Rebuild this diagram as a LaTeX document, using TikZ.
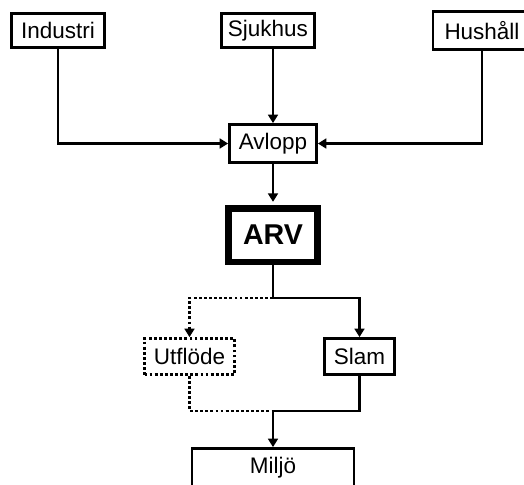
\documentclass[tikz,border=0pt]{standalone}
\usepackage{fontspec}
\setmainfont{Liberation Sans}
\usetikzlibrary{arrows.meta}
\tikzset{
  bx/.style={draw, line width=1.6pt, inner sep=0pt, align=center, font=\fontsize{12.8}{15}\selectfont},
  srcbox/.style={bx, minimum width=1.86cm, minimum height=0.68cm},
  plantbox/.style={draw, line width=3.7pt, inner sep=0pt, minimum width=1.79cm, minimum height=1.07cm, font=\fontsize{16.3}{19}\selectfont\bfseries},
  outbox/.style={bx, dash pattern=on 1.6pt off 1.3pt},
  arr/.style={-{Triangle[length=4.8pt,width=5.6pt]}, line width=1.6pt},
  flow/.style={line width=1.6pt},
  dotflow/.style={line width=1.6pt, dash pattern=on 1.6pt off 1.3pt},
}
\begin{document}
\begin{tikzpicture}[x=0.02cm, y=-0.02cm]
  \fill[white] (0,0) rectangle (524,484);
  \useasboundingbox (0,0) rectangle (524,484);
  % sources
  \node[srcbox] (ind) at (58,30.5) {Industri};
  \node[srcbox] (sjuk) at (268,30.5) {Sjukhus};
  \node[srcbox, minimum width=1.96cm, minimum height=0.76cm] (hus) at (482,30.5) {Hushåll};
  \node[bx, minimum width=1.74cm, minimum height=0.76cm] (avl) at (273,143.5) {Avlopp};
  % plant and outputs
  \node[plantbox] (arv) at (273,235) {ARV};
  \node[outbox, minimum width=1.80cm, minimum height=0.72cm] (utf) at (189.5,356.5) {Utflöde};
  \node[bx, minimum width=1.40cm, minimum height=0.72cm] (slam) at (359.5,356.5) {Slam};
  \node[bx, minimum width=3.24cm, minimum height=0.78cm] (milj) at (273,468) {Miljö};
  \coordinate (split) at (273,298);
  \coordinate (merge) at (273,411);
  \draw[arr] (ind.south) |- (avl.west);
  \draw[arr] (hus.south) |- (avl.east);
  \draw[arr] (sjuk.south -| avl.north) -- (avl.north);
  \draw[arr, shorten >=1.8pt] (avl) -- (arv);
  \draw[flow] (arv.south) -- (split);
  \draw[arr] (split) -| (slam.north);
  \draw[dotflow] (split) -| ([yshift=0.16cm]utf.north);
  \draw[arr] ([yshift=0.16cm]utf.north) -- (utf.north);
  \draw[flow] (slam.south) |- (merge);
  \draw[dotflow] (utf.south) |- (merge);
  \draw[arr] (merge) -- (milj.north);
\end{tikzpicture}
\end{document}
